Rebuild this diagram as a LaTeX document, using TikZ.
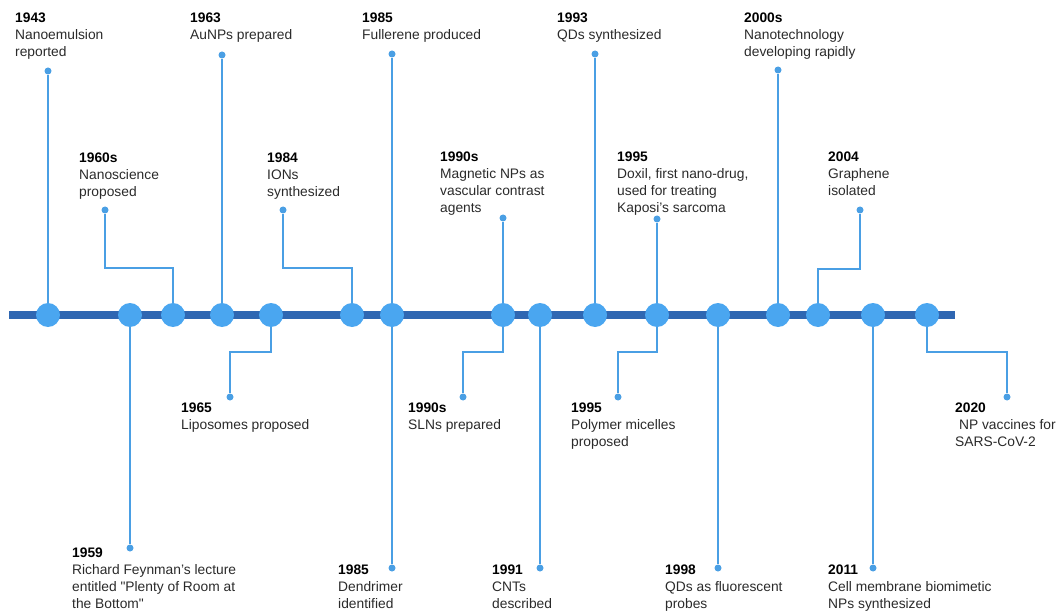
\documentclass[tikz,border=0pt]{standalone}
\usepackage{fontspec}
\setmainfont{Liberation Sans}
\usepackage{xcolor}
\usepackage{tikz}
\usetikzlibrary{positioning,calc}
\definecolor{axisblue}{HTML}{2F67B2}
\definecolor{knotblue}{HTML}{4AA6F0}
\definecolor{stemblue}{HTML}{4A9FE4}
\definecolor{textgray}{HTML}{2A2A2A}

\begin{document}
\begin{tikzpicture}[x=1pt,y=-1pt,
  knot/.style={circle, fill=knotblue, inner sep=0pt, minimum size=24pt},
  pin/.style={circle, fill=stemblue, inner sep=0pt, minimum size=7pt},
  stem/.style={stemblue, line width=2.6pt},
  event/.style={anchor=north west, inner sep=0pt, align=left, text=textgray,
    font=\fontsize{13.8}{17}\selectfont}]
\useasboundingbox (0,0) rectangle (1059,612);

% axis
\coordinate (start) at (9,315);
\coordinate (end) at (955,315);
\draw[axisblue, line width=7.5pt] (start) -- (end);

% knots on the axis
\foreach \x in {48,130,173,222,271,352,392,503,540,595,657,718,778,818,873,927}
  \node[knot] (c\x) at (\x,315) {};

% end points of the stems
\node[pin] (p1943) at (48,71) {};
\node[pin] (p1963) at (222,55) {};
\node[pin] (p1985a) at (392,54) {};
\node[pin] (p1993) at (595,54) {};
\node[pin] (p2000) at (778,70) {};
\node[pin] (p1960) at (105,210) {};
\node[pin] (p1984) at (283,210) {};
\node[pin] (p1990a) at (503,218) {};
\node[pin] (p1995a) at (657,219) {};
\node[pin] (p2004) at (860,210) {};
\node[pin] (p1965) at (230,397) {};
\node[pin] (p1990b) at (463,397) {};
\node[pin] (p1995b) at (618,397) {};
\node[pin] (p2020) at (1007,397) {};
\node[pin] (p1959) at (130,548) {};
\node[pin] (p1985b) at (392,568) {};
\node[pin] (p1991) at (540,568) {};
\node[pin] (p1998) at (718,568) {};
\node[pin] (p2011) at (873,568) {};

% stems
\draw[stem] (c48) -- (p1943);
\draw[stem] (c222) -- (p1963);
\draw[stem] (c392) -- (p1985a);
\draw[stem] (c595) -- (p1993);
\draw[stem] (c778) -- (p2000);
\draw[stem] (c173) -- ++(0,-47) -| (p1960);
\draw[stem] (c352) -- ++(0,-47) -| (p1984);
\draw[stem] (c503) -- (p1990a);
\draw[stem] (c657) -- (p1995a);
\draw[stem] (c818) -- ++(0,-46) -| (p2004);
\draw[stem] (c271) -- ++(0,37) -| (p1965);
\draw[stem] (c503) -- ++(0,37) -| (p1990b);
\draw[stem] (c657) -- ++(0,37) -| (p1995b);
\draw[stem] (c927) -- ++(0,37) -| (p2020);
\draw[stem] (c130) -- (p1959);
\draw[stem] (c392) -- (p1985b);
\draw[stem] (c540) -- (p1991);
\draw[stem] (c718) -- (p1998);
\draw[stem] (c873) -- (p2011);

% labels above
\node[event] (t1943) at (15,13) {\textbf{\color{black}1943}\\Nanoemulsion\\reported};
\node[event] (t1963) at (190,13) {\textbf{\color{black}1963}\\AuNPs prepared};
\node[event] (t1985a) at (362,13) {\textbf{\color{black}1985}\\Fullerene produced};
\node[event] (t1993) at (557,13) {\textbf{\color{black}1993}\\QDs synthesized};
\node[event] (t2000) at (744,13) {\textbf{\color{black}2000s}\\Nanotechnology\\developing rapidly};
\node[event] (t1960) at (79,153) {\textbf{\color{black}1960s}\\Nanoscience\\proposed};
\node[event] (t1984) at (267,153) {\textbf{\color{black}1984}\\IONs\\synthesized};
\node[event] (t1990a) at (440,152) {\textbf{\color{black}1990s}\\Magnetic NPs as\\vascular contrast\\agents};
\node[event] (t1995a) at (617,152) {\textbf{\color{black}1995}\\Doxil, first nano-drug,\\used for treating\\Kaposi's sarcoma};
\node[event] (t2004) at (828,152) {\textbf{\color{black}2004}\\Graphene\\isolated};

% labels below
\node[event] (t1965) at (181,403) {\textbf{\color{black}1965}\\Liposomes proposed};
\node[event] (t1990b) at (408,403) {\textbf{\color{black}1990s}\\SLNs prepared};
\node[event] (t1995b) at (571,403) {\textbf{\color{black}1995}\\Polymer micelles\\proposed};
\node[event] (t2020) at (955,403) {\textbf{\color{black}2020}\\\ NP vaccines for\\SARS-CoV-2};
\node[event] (t1959) at (72,548) {\textbf{\color{black}1959}\\Richard Feynman's lecture\\entitled \textquotedbl Plenty of Room at\\the Bottom\textquotedbl};
\node[event] (t1985b) at (338,565) {\textbf{\color{black}1985}\\Dendrimer\\identified};
\node[event] (t1991) at (492,565) {\textbf{\color{black}1991}\\CNTs\\described};
\node[event] (t1998) at (665,565) {\textbf{\color{black}1998}\\QDs as fluorescent\\probes};
\node[event] (t2011) at (828,565) {\textbf{\color{black}2011}\\Cell membrane biomimetic\\NPs synthesized};
\end{tikzpicture}
\end{document}
